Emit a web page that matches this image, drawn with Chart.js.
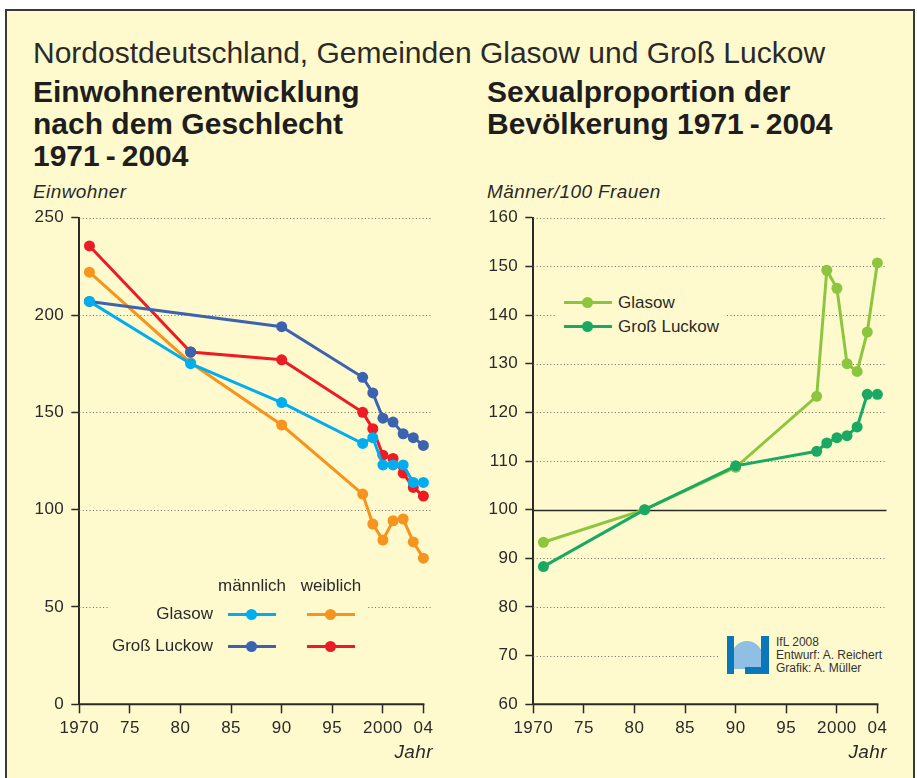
<!DOCTYPE html>
<html lang="de">
<head>
<meta charset="utf-8">
<title>Glasow und Groß Luckow</title>
<script src="https://cdn.jsdelivr.net/npm/chart.js@4/dist/chart.umd.min.js"></script>
<style>
  body { margin: 0; width: 917px; height: 778px; position: relative; overflow: hidden; background: #fff;
         font-family: 'Liberation Sans', Arial, sans-serif; color: #2a2a2a; }
  .frame { position: absolute; left: 5px; top: 9px; width: 906px; height: 800px; border: 2px solid #3a3a3a;
           background: #fffacd; }
  .abs { position: absolute; white-space: nowrap; }
  .sub { left: 33px; top: 36px; font-size: 30px; line-height: 34px; font-weight: 300; }
  .head { top: 76px; font-size: 30px; line-height: 32px; font-weight: bold; color: #1e1e1e; }
  .unit { top: 182px; font-size: 19px; line-height: 20px; font-style: italic; letter-spacing: 0.4px; }
  .jahr { top: 742px; font-size: 19px; line-height: 20px; font-style: italic; letter-spacing: 0.4px; text-align: right; }
  canvas { position: absolute; }
  .mask { position: absolute; background: #fffacd; }
  .leg { position: absolute; font-size: 17px; line-height: 20px; white-space: nowrap; }
  .key { position: absolute; height: 3px; width: 48px; }
  .key i { position: absolute; left: 18px; top: -4px; width: 11px; height: 11px; border-radius: 50%; background: inherit; }
  .credit { position: absolute; left: 776px; top: 636px; font-size: 12px; line-height: 13px; color: #333; }
</style>
</head>
<body>
<div class="frame"></div>

<div class="abs sub">Nordostdeutschland, Gemeinden Glasow und Groß Luckow</div>
<div class="abs head" style="left:33px">Einwohnerentwicklung<br>nach dem Geschlecht<br>1971&thinsp;-&thinsp;2004</div>
<div class="abs head" style="left:487px">Sexualproportion der<br>Bevölkerung 1971&thinsp;-&thinsp;2004</div>
<div class="abs unit" style="left:33px">Einwohner</div>
<div class="abs unit" style="left:487px">Männer/100 Frauen</div>

<canvas id="popChart" width="460" height="580" style="left:0; top:181px; width:460px; height:580px"></canvas>
<canvas id="ratioChart" width="459" height="580" style="left:458px; top:181px; width:459px; height:580px"></canvas>

<div class="abs jahr" style="left:383px; width:50px">Jahr</div>
<div class="abs jahr" style="left:837px; width:50px">Jahr</div>

<!-- legend of the left chart -->
<div class="mask" style="left:108px; top:572px; width:260px; height:88px"></div>
<div class="leg" style="left:212px; top:576px; width:80px; text-align:center">männlich</div>
<div class="leg" style="left:291px; top:576px; width:80px; text-align:center">weiblich</div>
<div class="leg" style="left:100px; top:604px; width:113px; text-align:right">Glasow</div>
<div class="leg" style="left:100px; top:636px; width:113px; text-align:right">Groß Luckow</div>
<div id="legLeft"></div>

<!-- legend of the right chart -->
<div class="mask" style="left:555px; top:290px; width:172px; height:50px"></div>
<div id="legRight"></div>

<!-- credit -->
<div class="mask" style="left:718px; top:630px; width:172px; height:48px"></div>
<div style="position:absolute; left:727px; top:636px; width:42px; height:38px">
  <div style="position:absolute; left:4px; top:5px; width:32px; height:28px; background:#8fbfe2; border-radius:50% 50% 10% 10% / 60% 60% 10% 10%"></div>
  <div style="position:absolute; left:0; top:0; width:7px; height:38px; background:#0a77b8"></div>
  <div style="position:absolute; right:0; top:0; width:8px; height:38px; background:#0a77b8"></div>
  <div style="position:absolute; left:18px; top:31px; width:24px; height:7px; background:#0a77b8"></div>
</div>
<div class="credit">IfL 2008<br>Entwurf: A. Reichert<br>Grafik: A. Müller</div>

<script>
// census years and values
const years = [1971, 1981, 1990, 1998, 1999, 2000, 2001, 2002, 2003, 2004];

const glasowMaennlich      = [207, 175, 155, 134, 137, 123, 123, 123, 114, 114];
const glasowWeiblich       = [222, 175.5, 143.5, 108, 92.6, 84.4, 94.3, 95.2, 83.4, 75.1];
const grossLuckowMaennlich = [207, 181, 194, 168, 160, 147, 145, 139, 137, 133];
const grossLuckowWeiblich  = [235.5, 181, 177, 150, 141.6, 128, 126.3, 118.8, 111.4, 107];

// Männer je 100 Frauen
const ratioGlasow      = [93.3, 100, 108.7, 123.3, 149.2, 145.5, 130, 128.4, 136.5, 150.7];
const ratioGrossLuckow = [88.3, 100, 109, 112, 113.7, 114.8, 115.2, 117, 123.7, 123.7];

const xTicks = [1970, 1975, 1980, 1985, 1990, 1995, 2000, 2004];
const xTickLabels = ['1970', '75', '80', '85', '90', '95', '2000', '04'];
const popTicks = [0, 50, 100, 150, 200, 250];
const ratioTicks = [60, 70, 80, 90, 100, 110, 120, 130, 140, 150, 160];

// in the original the 1981 dot of Groß Luckow (m) is off its line, which runs 1971 -> 1990
const glmLineSkip = 1981;

const colors = {
    glasowM: '#00aeef',
    glasowW: '#f7941d',
    luckowM: '#3c63b0',
    luckowW: '#ed1c24',
    ratioGlasow: '#8cc63f',
    ratioLuckow: '#1aa962'
};

const toPoints = vals => years.map((x, i) => ({x: x, y: vals[i]}));

function lineSet(label, data, color, order) {
    return {
        label: label,
        data: data,
        borderColor: color,
        backgroundColor: color,
        pointBackgroundColor: color,
        borderWidth: 3,
        pointRadius: 5.5,
        pointBorderWidth: 0,
        tension: 0,
        spanGaps: true,
        order: order
    };
}

// dotted horizontal grid, solid at opts.solidAt
const dottedGrid = {
    id: 'dottedGrid',
    beforeDatasetsDraw(chart, args, opts) {
        const {ctx, chartArea} = chart;
        const y = chart.scales.y;
        ctx.save();
        y.ticks.forEach(t => {
            if (t.value === y.min) return;
            const py = Math.round(y.getPixelForValue(t.value)) + 0.5;
            const solid = t.value === opts.solidAt;
            ctx.lineWidth = solid ? 1.3 : 1;
            ctx.strokeStyle = solid ? '#2a2a2a' : '#6a6a5a';
            ctx.setLineDash(solid ? [] : [1, 2.4]);
            ctx.beginPath();
            ctx.moveTo(chartArea.left, py);
            ctx.lineTo(chartArea.right, py);
            ctx.stroke();
        });
        ctx.restore();
    }
};

// x axis line stops at the last tick (2004), grid runs a bit further
const xAxisLine = {
    id: 'xAxisLine',
    beforeDraw(chart) {
        chart.ctx.letterSpacing = '0.5px';
    },
    afterDraw(chart) {
        const {ctx, chartArea} = chart;
        const x = chart.scales.x;
        ctx.save();
        ctx.strokeStyle = '#2a2a2a';
        ctx.lineWidth = 2;
        ctx.beginPath();
        ctx.moveTo(chartArea.left - 1, chartArea.bottom);
        ctx.lineTo(x.getPixelForValue(xTicks[xTicks.length - 1]) + 1, chartArea.bottom);
        ctx.stroke();
        ctx.restore();
    }
};

function makeOptions(yMin, yMax, yTicks, pad, solidAt) {
    return {
        responsive: false,
        animation: false,
        events: [],
        layout: {padding: pad},
        plugins: {
            legend: {display: false},
            tooltip: {enabled: false},
            dottedGrid: {solidAt: solidAt}
        },
        scales: {
            x: {
                type: 'linear',
                min: 1970,
                max: 2004.9,
                afterBuildTicks: scale => { scale.ticks = xTicks.map(v => ({value: v})); },
                afterFit: scale => { scale.height = 40; },
                ticks: {
                    autoSkip: false,
                    maxRotation: 0,
                    padding: 5,
                    color: '#2a2a2a',
                    font: {family: "'Liberation Sans', Arial, sans-serif", size: 17},
                    callback: (v, i) => xTickLabels[i]
                },
                grid: {drawOnChartArea: false, tickLength: 9, tickColor: '#2a2a2a', tickWidth: 1.5},
                border: {display: false}
            },
            y: {
                min: yMin,
                max: yMax,
                afterBuildTicks: scale => { scale.ticks = yTicks.map(v => ({value: v})); },
                afterFit: scale => { scale.width = 60; },
                ticks: {
                    padding: 7,
                    color: '#2a2a2a',
                    font: {family: "'Liberation Sans', Arial, sans-serif", size: 17}
                },
                grid: {drawOnChartArea: false, tickLength: 8, tickColor: '#2a2a2a', tickWidth: 1.5},
                border: {color: '#2a2a2a', width: 2}
            }
        }
    };
}

// Einwohner nach Geschlecht
new Chart(document.getElementById('popChart').getContext('2d'), {
    type: 'line',
    data: {
        datasets: [
            lineSet('Glasow männlich', toPoints(glasowMaennlich), colors.glasowM, 1),
            lineSet('Groß Luckow männlich',
                years.map((x, i) => ({x: x, y: x === glmLineSkip ? null : grossLuckowMaennlich[i]})),
                colors.luckowM, 2),
            Object.assign(lineSet('Groß Luckow männlich 1981',
                [{x: glmLineSkip, y: grossLuckowMaennlich[years.indexOf(glmLineSkip)]}],
                colors.luckowM, 2), {showLine: false}),
            lineSet('Groß Luckow weiblich', toPoints(grossLuckowWeiblich), colors.luckowW, 3),
            lineSet('Glasow weiblich', toPoints(glasowWeiblich), colors.glasowW, 4)
        ]
    },
    options: makeOptions(0, 250, popTicks, {left: 19.3, top: 36.7, right: 27.5, bottom: 16.7}, null),
    plugins: [dottedGrid, xAxisLine]
});

// Sexualproportion
new Chart(document.getElementById('ratioChart').getContext('2d'), {
    type: 'line',
    data: {
        datasets: [
            lineSet('Glasow', toPoints(ratioGlasow), colors.ratioGlasow, 2),
            lineSet('Groß Luckow', toPoints(ratioGrossLuckow), colors.ratioLuckow, 1)
        ]
    },
    options: makeOptions(60, 160, ratioTicks, {left: 15.3, top: 36.7, right: 30.5, bottom: 16.7}, 100),
    plugins: [dottedGrid, xAxisLine]
});

// legend keys
function key(left, top, color) {
    return '<div class="key" style="left:' + left + 'px; top:' + top + 'px; background:' + color + '"><i></i></div>';
}
document.getElementById('legLeft').innerHTML =
    key(228, 613, colors.glasowM) + key(307, 613, colors.glasowW) +
    key(228, 645, colors.luckowM) + key(307, 645, colors.luckowW);
document.getElementById('legRight').innerHTML =
    key(564, 301, colors.ratioGlasow) + '<div class="leg" style="left:618px; top:293px">Glasow</div>' +
    key(564, 325, colors.ratioLuckow) + '<div class="leg" style="left:618px; top:317px">Groß Luckow</div>';
</script>
</body>
</html>
